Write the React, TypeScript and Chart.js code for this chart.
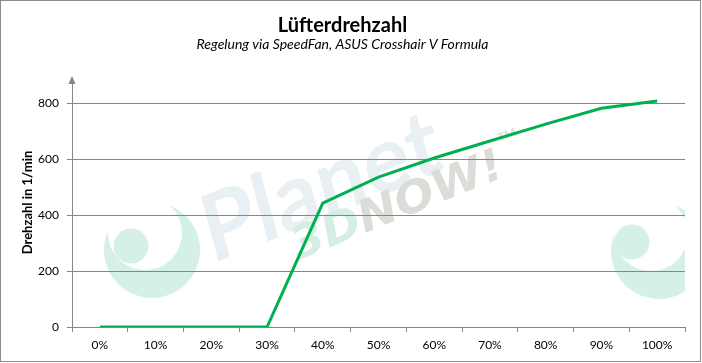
import React, { useEffect, useRef } from "react";
import { Chart, registerables } from "chart.js";

Chart.register(...registerables);

const categories = ["0%", "10%", "20%", "30%", "40%", "50%", "60%", "70%", "80%", "90%", "100%"];
const rpmValues = [0, 0, 0, 0, 443, 536, 604, 665, 725, 782, 808];
const yTickValues = [0, 200, 400, 600, 800];
const titleText = "Lüfterdrehzahl";
const subtitleText = "Regelung via SpeedFan, ASUS Crosshair V Formula";
const yAxisTitle = "Drehzahl in 1/min";

const FONT = "Lato, 'Open Sans', sans-serif";
const GRID = "#868686";
const MINT = "#d5f0e6";

const watermarkPlugin = {
  id: "watermark",
  beforeDraw(chart: any) {
    const { ctx, chartArea } = chart;
    ctx.save();
    ctx.fillStyle = "#ffffff";
    ctx.fillRect(0, 0, chart.width, chart.height);
    ctx.beginPath();
    ctx.rect(chartArea.left, chartArea.top, chartArea.right - chartArea.left, chartArea.bottom - chartArea.top);
    ctx.clip();

    const disk = (x: number, y: number, r: number, c: string) => {
      ctx.fillStyle = c;
      ctx.beginPath();
      ctx.arc(x, y, r, 0, Math.PI * 2);
      ctx.fill();
    };
    const logo = (cx: number, cy: number, hx: number, hy: number, ix: number, iy: number) => {
      disk(cx, cy, 48, MINT);
      disk(cx + hx, cy + hy, 37, "#ffffff");
      disk(cx + ix, cy + iy, 17.5, MINT);
    };
    logo(152, 250, -7, -17, -21, -4);
    logo(659, 251, -8, -17, -27, -9);

    const ang = (-22 * Math.PI) / 180;
    ctx.save();
    ctx.translate(212, 264);
    ctx.rotate(ang);
    ctx.transform(1, 0, -0.12, 1, 0, 0);
    ctx.font = "bold 92px " + FONT;
    const w = ctx.measureText("Planet").width;
    ctx.scale(252 / w, 1);
    ctx.fillStyle = "#e9f0f3";
    ctx.fillText("Planet", 0, 0);
    ctx.restore();

    ctx.save();
    ctx.translate(298, 260);
    ctx.rotate(ang);
    ctx.font = "italic bold 44px 'DejaVu Sans', sans-serif";
    const w3 = ctx.measureText("3D").width;
    const wN = ctx.measureText("NOW!").width;
    const s = 225 / (w3 + wN);
    ctx.scale(s, 1);
    ctx.fillStyle = "#d4eee4";
    ctx.fillText("3D", 0, 0);
    ctx.fillStyle = "#dcdcd8";
    ctx.fillText("NOW!", w3, 0);
    ctx.font = "bold 11px " + FONT;
    ctx.fillText("TM", w3 + wN + 6, -34);
    ctx.restore();

    ctx.restore();
  },
  afterDraw(chart: any) {
    const { ctx, chartArea } = chart;
    ctx.save();
    const x = chartArea.left;
    ctx.fillStyle = GRID;
    ctx.beginPath();
    ctx.moveTo(x, chartArea.top - 2);
    ctx.lineTo(x - 3.5, chartArea.top + 6);
    ctx.lineTo(x + 3.5, chartArea.top + 6);
    ctx.closePath();
    ctx.fill();
    ctx.strokeStyle = "#8c8c8c";
    ctx.lineWidth = 1;
    ctx.strokeRect(0.5, 0.5, chart.width - 2, chart.height - 2);
    ctx.restore();
  },
};

export default function App() {
  const ref = useRef<HTMLCanvasElement | null>(null);
  useEffect(() => {
    if (!ref.current) return;
    const chart = new Chart(ref.current, {
      type: "line",
      data: {
        labels: categories,
        datasets: [
          {
            data: rpmValues,
            borderColor: "#00B050",
            backgroundColor: "#00B050",
            borderWidth: 3,
            pointRadius: 0,
            tension: 0,
            fill: false,
          },
        ],
      },
      options: {
        animation: false,
        responsive: false,
        maintainAspectRatio: false,
        layout: { padding: { top: 6, right: 17, left: 0, bottom: 0 } },
        plugins: {
          legend: { display: false },
          tooltip: { enabled: false },
          title: {
            display: true,
            text: titleText,
            color: "#000",
            font: { family: FONT, size: 20, weight: "bold", lineHeight: 1 },
            padding: { top: 10, bottom: 0 },
          },
          subtitle: {
            display: true,
            text: subtitleText,
            color: "#000",
            font: { family: FONT, size: 14, style: "italic", lineHeight: 1.2 },
            padding: { top: 0, bottom: 25.2 },
          },
        },
        scales: {
          x: {
            type: "category",
            offset: true,
            grid: {
              offset: true,
              drawOnChartArea: false,
              drawTicks: true,
              tickLength: 5,
              color: GRID,
            },
            border: { display: true, color: GRID },
            ticks: {
              padding: 6,
              color: "#000",
              font: { family: FONT, size: 12 },
              maxRotation: 0,
              autoSkip: false,
            },
            afterFit(scale: any) {
              scale.height = 36;
            },
          },
          y: {
            min: 0,
            max: 890,
            ticks: {
              stepSize: 200,
              padding: 8,
              color: "#000",
              font: { family: FONT, size: 12 },
              callback: (v: any) => (yTickValues.includes(Number(v)) ? String(v) : null),
            },
            grid: {
              color: GRID,
              tickLength: 5,
              drawTicks: true,
            },
            border: { display: true, color: GRID },
            title: {
              display: true,
              text: yAxisTitle,
              color: "#000",
              font: { family: FONT, size: 13, weight: "bold" },
              padding: { top: 20, bottom: 0 },
            },
            afterFit(scale: any) {
              scale.width = 72;
            },
          },
        },
      },
      plugins: [watermarkPlugin],
    } as any);
    return () => chart.destroy();
  }, []);
  return (
    <div style={{ position: "absolute", left: 0, top: 0, width: 702, height: 363 }}>
      <canvas ref={ref} width={702} height={363} style={{ display: "block", width: 702, height: 363 }} />
    </div>
  );
}
